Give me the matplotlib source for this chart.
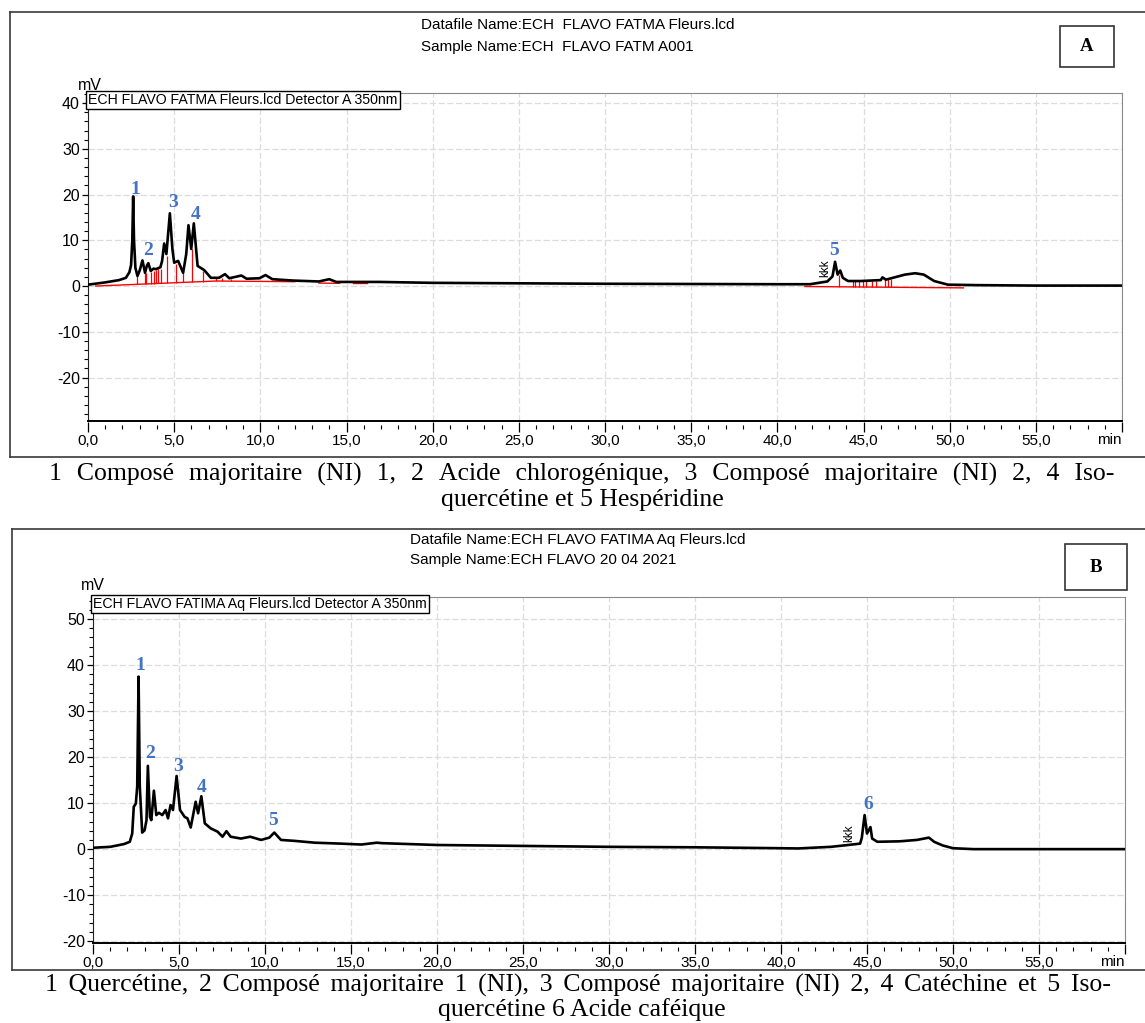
import matplotlib
matplotlib.use("Agg")
import matplotlib.pyplot as plt
from matplotlib.ticker import MultipleLocator, FuncFormatter
from matplotlib.patches import Rectangle
from matplotlib.lines import Line2D

W, H = 1145, 1023
SANS = ["Liberation Sans", "DejaVu Sans"]
SERIF = ["Liberation Serif", "DejaVu Serif"]
BLUE = "#4472C4"
plt.rcParams["font.family"] = SANS

# ---------------- Chromatogram A : ECH FLAVO FATMA Fleurs ----------------
time_a = [0.0, 1.0, 1.8, 2.2, 2.4, 2.5, 2.57, 2.62, 2.67, 2.75, 2.87, 3.0, 3.16,
          3.31, 3.42, 3.5, 3.64, 3.8, 3.95, 4.2, 4.3, 4.42, 4.55, 4.75, 4.9,
          5.0, 5.23, 5.52, 5.7, 5.83, 5.99, 6.14, 6.36, 6.74, 7.13, 7.6, 7.95,
          8.2, 8.9, 9.2, 9.95, 10.3, 10.7, 11.9, 13.4, 14.0, 14.4, 16.9, 20.0,
          25.0, 30.0, 35.0, 40.0, 41.9, 42.9, 43.2, 43.35, 43.5, 43.65, 43.8,
          44.1, 44.85, 46.0, 46.1, 46.3, 47.4, 48.0, 48.5, 49.1, 49.9, 51.6,
          55.0, 60.0]
signal_a = [0.3, 0.8, 1.3, 1.8, 3.0, 4.6, 10.0, 19.6, 10.0, 4.0, 2.2, 3.4, 5.6,
            2.9, 4.5, 5.0, 3.3, 3.8, 3.7, 4.1, 5.5, 9.3, 7.0, 15.9, 8.0,
            5.1, 5.5, 2.9, 7.0, 13.3, 8.1, 13.7, 4.4, 3.5, 1.8, 1.8, 2.6,
            1.7, 2.3, 1.6, 1.7, 2.4, 1.5, 1.2, 1.0, 1.5, 0.9, 0.9, 0.7,
            0.6, 0.5, 0.45, 0.4, 0.4, 1.0, 2.1, 5.3, 2.5, 3.4, 1.8,
            1.1, 1.1, 1.3, 1.9, 1.4, 2.5, 2.8, 2.5, 1.1, 0.3, 0.2,
            0.1, 0.1]

# integration baselines (red) and peak drop lines
base_a = [([0.45, 7.42, 12.0], [0.0, 1.1, 0.95]),
          ([13.4, 14.6], [0.65, 0.6]),
          ([15.4, 16.2], [0.6, 0.6]),
          ([41.6, 50.8], [-0.1, -0.4])]
drop_t_a = [2.87, 3.31, 3.39, 3.68, 3.84, 3.97, 4.09, 4.22, 4.61, 5.10, 5.52,
            6.03, 6.65, 7.42, 7.75, 8.29,
            43.57, 44.39, 44.53, 44.72, 44.97, 45.16, 45.49, 45.74, 46.26,
            46.42, 46.59]
drop_top_a = [2.2, 2.9, 2.9, 3.1, 3.3, 3.4, 3.7, 3.8, 6.6, 4.8, 2.9,
              8.1, 3.3, 1.7, 1.7, 1.6,
              2.4, 1.0, 1.0, 1.0, 1.0, 1.0, 1.0, 1.0, 1.6, 1.6, 1.6]
drop_bot_a = [0.38, 0.45, 0.47, 0.51, 0.54, 0.56, 0.58, 0.6, 0.66, 0.74, 0.8,
              0.88, 0.98, 1.1, 1.1, 1.05,
              -0.16, -0.19, -0.2, -0.2, -0.21, -0.22, -0.23, -0.24, -0.25,
              -0.26, -0.26]

peak_ids_a = ["1", "2", "3", "4", "5"]
peak_lbl_t_a = [2.77, 3.49, 4.93, 6.24, 43.3]
peak_lbl_v_a = [21.2, 7.7, 18.2, 15.7, 7.7]

# ---------------- Chromatogram B : ECH FLAVO FATIMA Aq Fleurs ----------------
time_b = [0.0, 1.0, 1.8, 2.14, 2.28, 2.37, 2.49, 2.57, 2.65, 2.72, 2.86, 3.0,
          3.11, 3.19, 3.31, 3.39, 3.54, 3.68, 3.83, 4.03, 4.22, 4.36, 4.51,
          4.65, 4.86, 5.06, 5.33, 5.49, 5.68, 5.97, 6.11, 6.30, 6.5, 6.85,
          7.24, 7.53, 7.76, 8.0, 8.6, 9.14, 9.77, 10.25, 10.54, 10.93, 11.7,
          12.9, 14.4, 15.6, 16.5, 16.8, 20.0, 25.0, 30.0, 35.0, 40.0, 41.0,
          42.9, 43.9, 44.6, 44.7, 44.86, 45.0, 45.2, 45.3, 45.6, 46.9, 47.9,
          48.6, 48.9, 49.4, 50.0, 51.2, 55.0, 60.0]
signal_b = [0.3, 0.5, 1.1, 1.6, 3.4, 9.2, 9.9, 13.6, 37.5, 13.6, 3.6, 4.1,
            6.3, 18.1, 7.0, 6.3, 12.7, 7.4, 7.9, 7.4, 8.5, 6.7, 9.6,
            8.5, 15.9, 8.5, 7.0, 6.7, 4.7, 10.3, 7.8, 11.5, 5.6, 4.5,
            3.8, 2.7, 3.9, 2.7, 2.3, 2.7, 2.0, 2.5, 3.6, 2.0, 1.8,
            1.4, 1.2, 1.0, 1.4, 1.3, 0.9, 0.7, 0.5, 0.4, 0.2, 0.15,
            0.5, 0.9, 1.2, 2.5, 7.4, 3.4, 4.8, 2.3, 1.6, 1.7, 2.0,
            2.5, 1.6, 0.8, 0.2, 0.0, 0.0, 0.0]

peak_ids_b = ["1", "2", "3", "4", "5", "6"]
peak_lbl_t_b = [2.73, 3.31, 4.94, 6.34, 10.47, 45.06]
peak_lbl_v_b = [40.0, 20.7, 18.0, 13.5, 6.3, 9.8]

x_major = 5
x_minor = 1


def fx(px):
    return px / W


def fy(py):
    return 1 - py / H


fig = plt.figure(figsize=(W / 100, H / 100), dpi=100)
renderer = fig.canvas.get_renderer()


def frame(x0, y0, y1):
    # open document frame around each chromatogram (cut at the right page edge)
    for xs, ys in (([x0, W], [y0, y0]), ([x0, x0], [y0, y1]), ([x0, W], [y1, y1])):
        fig.add_artist(Line2D([fx(v) for v in xs], [fy(v) for v in ys],
                              transform=fig.transFigure, color="#3a3a3a", lw=1.2))


def setup_axes(rect_px, ylim, ymajor):
    l, t, r, b = rect_px
    ax = fig.add_axes([fx(l), fy(b), (r - l) / W, (b - t) / H])
    ax.set_xlim(0, 60)
    ax.set_ylim(*ylim)
    ax.xaxis.set_major_locator(MultipleLocator(x_major))
    ax.xaxis.set_minor_locator(MultipleLocator(x_minor))
    ax.yaxis.set_major_locator(MultipleLocator(ymajor))
    ax.yaxis.set_minor_locator(MultipleLocator(2))
    ax.xaxis.set_major_formatter(FuncFormatter(
        lambda v, p: "" if v >= 59.9 else f"{v:.1f}".replace(".", ",")))
    ax.yaxis.set_major_formatter(FuncFormatter(lambda v, p: f"{v:.0f}"))
    ax.grid(True, which="major", color="#dcdcdc", lw=0.9, ls=(0, (5, 2)))
    ax.set_axisbelow(True)
    ax.spines["bottom"].set_position(("outward", 4.3))
    ax.spines["bottom"].set_color("none")
    ax.spines["left"].set_color("#222222")
    ax.spines["right"].set_color("#8a8a8a")
    ax.spines["top"].set_color("#8a8a8a")
    ax.plot([0, 1], [0, 0], transform=ax.transAxes, color="black", lw=1.4,
            clip_on=False, zorder=5)
    ax.tick_params(axis="x", which="major", direction="inout", length=6.5,
                   width=0.9, labelsize=11, pad=1.5)
    ax.tick_params(axis="x", which="minor", direction="inout", length=3,
                   width=0.8)
    ax.tick_params(axis="y", which="major", direction="out", length=4.3,
                   width=0.9, labelsize=11.5, pad=1.5)
    ax.tick_params(axis="y", which="minor", direction="out", length=2.6,
                   width=0.8)
    ax.annotate("min", xy=(1, 0), xycoords="axes fraction", xytext=(0, -12),
                textcoords="offset pixels", ha="right", va="top", fontsize=11)
    return ax


def header(x_px, y1, y2, line1, line2, mv_xy, legend_text, letter, box_px, ax):
    fig.text(fx(x_px), fy(y1), line1, ha="left", va="center", fontsize=11)
    fig.text(fx(x_px), fy(y2), line2, ha="left", va="center", fontsize=11)
    fig.text(fx(mv_xy[0]), fy(mv_xy[1]), "mV", ha="center", va="center",
             fontsize=11.5)
    ax.text(0.0, 1.0, legend_text, transform=ax.transAxes, ha="left",
            va="top", fontsize=10.2, zorder=6,
            bbox=dict(boxstyle="square,pad=0.17", fc="white", ec="black",
                      lw=1.0))
    bx0, by0, bx1, by1 = box_px
    fig.add_artist(Rectangle((fx(bx0), fy(by1)), (bx1 - bx0) / W,
                             (by1 - by0) / H, transform=fig.transFigure,
                             fc="white", ec="#333333", lw=1.2))
    fig.text(fx((bx0 + bx1) / 2), fy((by0 + by1) / 2), letter, ha="center",
             va="center", family=SERIF, fontweight="bold", fontsize=13.5)


CAPTION_SIZE = 18.5
HAIR = "\u200a"


def text_width(s):
    t = fig.text(0, 0, s, family=SERIF, fontsize=CAPTION_SIZE)
    w = t.get_window_extent(renderer).width
    t.remove()
    return w


def spread_line(text, y_px, x_left, x_right):
    # widen the word gaps with hair spaces so the line spans the text block
    words = text.split(" ")
    hair = text_width("a" + HAIR * 4 + "a") / 4 - text_width("aa") / 4
    extra = (x_right - x_left) - text_width(text)
    k = 0
    if hair > 0.3 and extra > 0:
        k = int(round(extra / (len(words) - 1) / hair))
    line = (" " + HAIR * k).join(words)
    fig.text(fx((x_left + x_right) / 2), fy(y_px), line, ha="center",
             va="baseline", family=SERIF, fontsize=CAPTION_SIZE)


def caption(line1, line2, y1, y2, x_left, x_right):
    spread_line(line1, y1, x_left, x_right)
    fig.text(fx(582), fy(y2), line2, ha="center", va="baseline", family=SERIF,
             fontsize=CAPTION_SIZE)


# ---------------- panel A ----------------
frame(10, 12, 457)
ax_a = setup_axes((88, 93, 1122, 421), (-29.5, 42.2), 10)
for bt, bv in base_a:
    ax_a.plot(bt, bv, color="red", lw=1.0, zorder=2)
ax_a.vlines(drop_t_a, drop_bot_a, drop_top_a, color="red", lw=0.9, zorder=2)
ax_a.plot(time_a, signal_a, color="black", lw=1.9, zorder=3)
for pid, pt, pv in zip(peak_ids_a, peak_lbl_t_a, peak_lbl_v_a):
    ax_a.text(pt, pv, pid, color=BLUE, family=SERIF, fontweight="bold",
              fontsize=14, ha="center", va="center", zorder=4)
ax_a.text(42.8, 3.9, "kkk", rotation=90, ha="center", va="center", fontsize=8.5)
header(421, 25, 47, "Datafile Name:ECH  FLAVO FATMA Fleurs.lcd",
       "Sample Name:ECH  FLAVO FATM A001", (90, 86),
       "ECH FLAVO FATMA Fleurs.lcd Detector A 350nm", "A",
       (1060, 26, 1114, 67), ax_a)
caption("1 Composé majoritaire (NI) 1, 2 Acide chlorogénique, 3 Composé "
        "majoritaire (NI) 2, 4 Iso-",
        "quercétine et 5 Hespéridine", 481, 506, 57, 1107)

# ---------------- panel B ----------------
frame(12, 529, 970)
ax_b = setup_axes((93, 597, 1125, 943), (-20.4, 54.8), 10)
ax_b.plot(time_b, signal_b, color="black", lw=1.9, zorder=3)
for pid, pt, pv in zip(peak_ids_b, peak_lbl_t_b, peak_lbl_v_b):
    ax_b.text(pt, pv, pid, color=BLUE, family=SERIF, fontweight="bold",
              fontsize=14, ha="center", va="center", zorder=4)
ax_b.text(43.95, 3.4, "kkk", rotation=90, ha="center", va="center", fontsize=8.5)
header(410, 540, 560, "Datafile Name:ECH FLAVO FATIMA Aq Fleurs.lcd",
       "Sample Name:ECH FLAVO 20 04 2021", (93, 586),
       "ECH FLAVO FATIMA Aq Fleurs.lcd Detector A 350nm", "B",
       (1065, 544, 1127, 590), ax_b)
caption("1 Quercétine, 2 Composé majoritaire 1 (NI), 3 Composé majoritaire "
        "(NI) 2, 4 Catéchine et 5 Iso-",
        "quercétine 6 Acide caféique", 992, 1016, 45, 1110)

fig.savefig("out.png", dpi=100)
